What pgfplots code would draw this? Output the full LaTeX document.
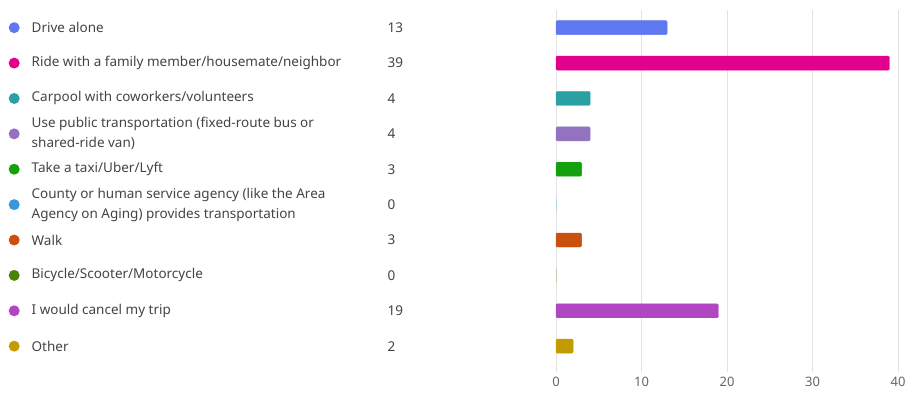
\documentclass[border=0pt]{standalone}
\usepackage{pgfplots}
\pgfplotsset{compat=1.18}
\usepackage{fontspec}
\setmainfont{Noto Sans}
\definecolor{c1}{HTML}{6078EF}
\definecolor{c2}{HTML}{E3008C}
\definecolor{c3}{HTML}{2AA0A4}
\definecolor{c4}{HTML}{9373C0}
\definecolor{c5}{HTML}{13A10E}
\definecolor{c6}{HTML}{3A96DD}
\definecolor{c7}{HTML}{CA5010}
\definecolor{c8}{HTML}{498205}
\definecolor{c9}{HTML}{B146C2}
\definecolor{c10}{HTML}{C19C00}
\definecolor{txt}{HTML}{444444}
\definecolor{tick}{HTML}{666666}
\definecolor{gridc}{HTML}{E3E3E3}
\newcommand{\lbl}[3]{\parbox[c]{23bp}{\tikz\fill[#1] (0,0) circle (5.5bp);}\parbox[c]{356bp}{\raggedright\fontsize{13.5bp}{20bp}\selectfont\color{txt}#2}\parbox[c]{30bp}{\fontsize{13.5bp}{20bp}\selectfont\color{txt}#3}}
\begin{document}
\begin{tikzpicture}
\path[use as bounding box] (0,0) rectangle (906bp,394bp);
\begin{axis}[
  at={(556bp,22bp)}, anchor=south west,
  scale only axis, width=342bp, height=362bp,
  xmin=0, xmax=40, ymin=-0.5, ymax=9.73,
  y dir=reverse,
  xtick={0,10,20,30,40},
  ytick={0,...,9},
  yticklabels={
    {\lbl{c1}{Drive alone}{13}},
    {\lbl{c2}{Ride with a family member/housemate/neighbor}{39}},
    {\lbl{c3}{Carpool with coworkers/volunteers}{4}},
    {\lbl{c4}{Use public transportation (fixed-route bus or\\ shared-ride van)}{4}},
    {\lbl{c5}{Take a taxi/Uber/Lyft}{3}},
    {\lbl{c6}{County or human service agency (like the Area\\ Agency on Aging) provides transportation}{0}},
    {\lbl{c7}{Walk}{3}},
    {\lbl{c8}{Bicycle/Scooter/Motorcycle}{0}},
    {\lbl{c9}{I would cancel my trip}{19}},
    {\lbl{c10}{Other}{2}}
  },
  yticklabel style={anchor=west, inner sep=0pt, xshift=-547.5bp},
  xticklabel style={font=\fontsize{13bp}{15bp}\selectfont, text=tick, yshift=-2bp},
  /pgf/number format/assume math mode=true,
  major tick length=0pt,
  xmajorgrids, grid style={gridc, line width=0.8bp},
  axis line style={draw=none},
  xbar, bar width=14bp, bar shift=0pt,
  clip=false,
]
\addplot[fill=c1, draw=c1, rounded corners=1.2bp] coordinates {(13,0)};
\addplot[fill=c2, draw=c2, rounded corners=1.2bp] coordinates {(39,1)};
\addplot[fill=c3, draw=c3, rounded corners=1.2bp] coordinates {(4,2)};
\addplot[fill=c4, draw=c4, rounded corners=1.2bp] coordinates {(4,3)};
\addplot[fill=c5, draw=c5, rounded corners=1.2bp] coordinates {(3,4)};
\addplot[fill=c6, draw=c6!40, line width=0.5bp] coordinates {(0,5)};
\addplot[fill=c7, draw=c7, rounded corners=1.2bp] coordinates {(3,6)};
\addplot[fill=c8, draw=c8!40, line width=0.5bp] coordinates {(0,7)};
\addplot[fill=c9, draw=c9, rounded corners=1.2bp] coordinates {(19,8)};
\addplot[fill=c10, draw=c10, rounded corners=1.2bp] coordinates {(2,9)};
\end{axis}
\end{tikzpicture}
\end{document}
